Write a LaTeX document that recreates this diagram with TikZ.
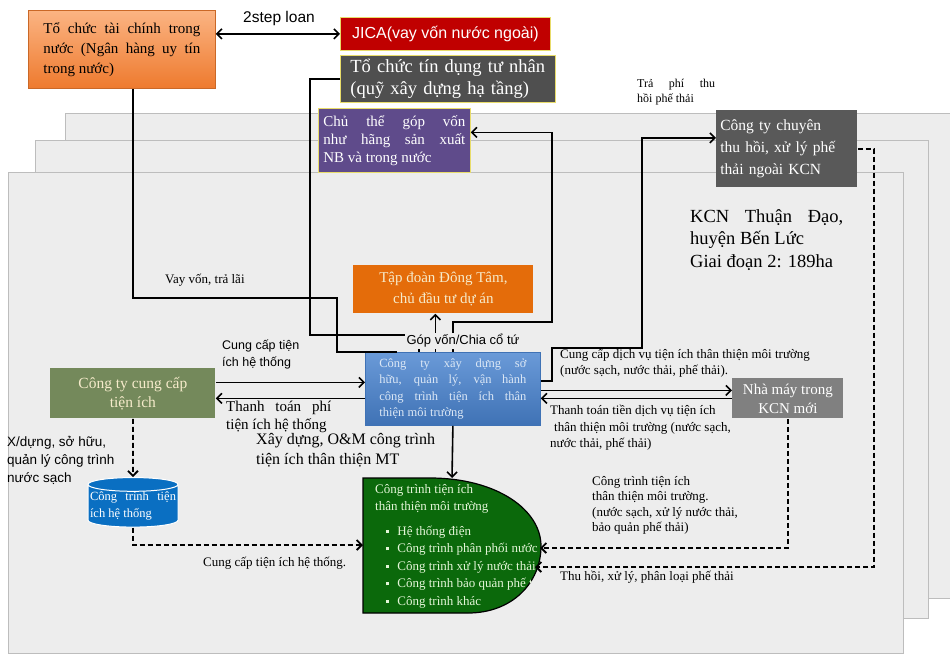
\documentclass[tikz,border=0pt]{standalone}
\usepackage{fontspec}
\setmainfont{Liberation Serif}
\newfontfamily\arialfont{Liberation Sans}
\usepackage{tikz}
\usetikzlibrary{arrows}
\usetikzlibrary{arrows.meta}
\usetikzlibrary{shapes.geometric}
\usetikzlibrary{positioning}

\definecolor{sheetfill}{HTML}{EDEDED}
\definecolor{sheetedge}{HTML}{BDBDBD}
\definecolor{boxedge}{HTML}{E8DC6A}
\definecolor{orgtop}{HTML}{FBB483}
\definecolor{orgbot}{HTML}{EE7A2E}
\definecolor{jicared}{HTML}{C00000}
\definecolor{tindunggray}{HTML}{4F4F4F}
\definecolor{gopvonpurple}{HTML}{5F4B8B}
\definecolor{chuyengray}{HTML}{595959}
\definecolor{dongtamorange}{HTML}{E46C0A}
\definecolor{bluetop}{HTML}{6A9AD8}
\definecolor{bluebot}{HTML}{3F72B5}
\definecolor{cungcapgreen}{HTML}{74895B}
\definecolor{nhamaygray}{HTML}{808080}
\definecolor{cylblue}{HTML}{0A6FC2}
\definecolor{ctrgreen}{HTML}{0B690B}
\definecolor{creamtext}{HTML}{F6EBCB}
\definecolor{bluetext}{HTML}{DCE8F6}
\definecolor{greentext}{HTML}{E4F6D8}

\newcommand{\fsz}[2]{\fontsize{#1}{#2}\selectfont}
\newcommand{\ctrbul}{\hspace*{11pt}\rule[2.5pt]{3.2pt}{3.2pt}\hspace{8pt}}

\begin{document}
\begin{tikzpicture}[x=1pt,y=-1pt,>={Straight Barb[length=5pt,width=10pt]},
        conn/.style={line width=1.6pt,->},
        plain/.style={line width=1.6pt},
        dconn/.style={line width=1.8pt,dash pattern=on 5pt off 3pt,->},
        sheet/.style={fill=sheetfill,draw=sheetedge,line width=1pt},
        fbox/.style={anchor=north west,inner sep=0pt,draw=boxedge,line width=0.8pt},
        lbl/.style={inner sep=0pt,anchor=north west,align=left}]

        \useasboundingbox (0,0) rectangle (950,657);
        \fill[white] (0,0) rectangle (950,657);

        \draw[sheet] (65,113) rectangle (950,598);
        \draw[sheet] (35,140) rectangle (928,618);
        \draw[sheet] (8,172) rectangle (903,653);

        \node[fbox,minimum width=187pt,minimum height=78pt,text width=157pt,align=justify,
            top color=orgtop,bottom color=orgbot,draw=orgbot!85!black,font=\fsz{15}{20}]
            (taichinh) at (28,10) {Tổ chức tài chính trong nước (Ngân hàng uy tín trong nước)};
        \node[fbox,minimum width=210pt,minimum height=33pt,fill=jicared,text=white,
            font=\arialfont\fsz{16}{18}] (jica) at (340,17) {JICA(vay vốn nước ngoài)};
        \node[fbox,minimum width=215pt,minimum height=47pt,text width=195pt,align=left,
            fill=tindunggray,text=white,font=\fsz{18.5}{22}]
            (tindung) at (340,55) {Tổ chức tín dụng tư nhân\\(quỹ xây dựng hạ tầng)};
        \node[fbox,minimum width=152pt,minimum height=64pt,text width=142pt,align=justify,
            fill=gopvonpurple,text=white,font=\fsz{15}{18}]
            (gopvon) at (318,108) {Chủ thể góp vốn\linebreak như hãng sản xuất\linebreak NB và trong nước};
        \node[fbox,draw=none,minimum width=141pt,minimum height=77pt,text width=133pt,align=left,
            fill=chuyengray,text=white,font=\fsz{15.5}{22}]
            (chuyen) at (716,110) {Công ty chuyên\\thu hồi, xử lý phế\\thải ngoài KCN};
        \node[lbl,text width=153pt,align=justify,font=\fsz{18.5}{22.5}]
            (kcn) at (690,209) {KCN Thuận Đạo,\linebreak huyện Bến Lức\\Giai đoạn 2: 189ha};
        \node[fbox,draw=none,minimum width=180pt,minimum height=48pt,fill=dongtamorange,
            text=creamtext,align=center,font=\fsz{15}{21}]
            (dongtam) at (353,265) {Tập đoàn Đông Tâm,\\chủ đầu tư dự án};
        \node[fbox,draw=bluebot,minimum width=175pt,minimum height=73pt,text width=147pt,
            align=justify,top color=bluetop,bottom color=bluebot,text=bluetext,font=\fsz{12.5}{16.5}]
            (blue) at (365,352) {Công ty xây dựng sở\linebreak hữu, quản lý, vận hành\linebreak
            công trình tiện ích thân\linebreak thiện môi trường};
        \node[fbox,draw=none,minimum width=165pt,minimum height=50pt,fill=cungcapgreen,
            text=creamtext,align=center,font=\fsz{15.5}{19}]
            (cungcap) at (50,368) {Công ty cung cấp\\tiện ích};
        \node[fbox,draw=none,minimum width=111pt,minimum height=40pt,fill=nhamaygray,
            text=white,align=center,font=\fsz{15}{19}]
            (nhamay) at (732,378) {Nhà máy trong\\KCN mới};
        \node[cylinder,shape border rotate=90,aspect=0.16,draw=white,line width=1pt,fill=cylblue,
            minimum width=90pt,minimum height=40pt,inner sep=0pt,text width=86pt,align=justify,
            text=white,font=\fsz{12.5}{17}]
            (cyl) at (133,506) {Công trình tiện\linebreak ích hệ thống};

        \filldraw[fill=ctrgreen,draw=black,line width=1.2pt] (363,478) -- (430,478)
            .. controls (497,478) and (541,510) .. (541,546)
            .. controls (541,583) and (512,613) .. (468,613) -- (363,613) -- cycle;
        \begin{scope}
            \clip (363,478) -- (430,478) .. controls (497,478) and (541,510) .. (541,546)
                .. controls (541,583) and (512,613) .. (468,613) -- (363,613) -- cycle;
            \node[lbl,text=greentext,font=\fsz{13}{17.5}] (ctrlist) at (375,484)
                {Công trình tiện ích\\thân thiện môi trường\\[7pt]
                \ctrbul Hệ thống điện\\\ctrbul Công trình phân phối nước\\
                \ctrbul Công trình xử lý nước thải\\\ctrbul Công trình bảo quản phế thải\\
                \ctrbul Công trình khác};
        \end{scope}
        \coordinate (ctrtop) at (452,478);
        \coordinate (ctrw) at (363,545);
        \coordinate (ctre1) at (540,548);
        \coordinate (ctre2) at (535,567);

        \draw[conn,<->] (jica.west -| taichinh.east) -- (jica.west);

        \coordinate (vayin) at ([xshift=32pt]blue.north west);
        \draw[plain] ([xshift=11pt]taichinh.south) |- (337,298) |- (vayin);
        \coordinate (tdin) at ([xshift=-34pt]blue.north);
        \draw[plain] (tindung.west) -| (310,335) -| (tdin);
        \coordinate (dtin) at ([xshift=-8pt]dongtam.south);
        \draw[conn] (dtin |- blue.north) -- (dtin);
        \coordinate (gvin) at ([yshift=8pt]gopvon.east);
        \draw[conn] (blue.north) |- (552,322) |- (gvin);
        \coordinate (tpout) at ([yshift=8pt]blue.east);
        \coordinate (chin) at ([yshift=11pt]chuyen.west);
        \draw[conn] (tpout) -| (552,348) -- (642,348) |- (chin);

        \coordinate (cc1) at ([yshift=11pt]cungcap.east);
        \coordinate (cc2) at ([yshift=-5pt]cungcap.east);
        \draw[conn] (cc1) -- (cc1 -| blue.west);
        \draw[conn] (cc2 -| blue.west) -- (cc2);
        \coordinate (nm1) at ([yshift=8pt]nhamay.west);
        \draw[conn] (nm1 -| blue.east) -- (nm1);
        \draw[conn] (nhamay.west) -- (nhamay.west -| blue.east);
        \draw[conn] (blue.south) -- (ctrtop);

        \draw[dconn] (cungcap.south) -- (cyl.north);
        \draw[dconn] (cyl.south) |- (ctrw);
        \draw[dconn] (nhamay.south) |- (ctre1);
        \draw[dconn] (chuyen.east) -| (874,567) -- (ctre2);

        \node[inner sep=0pt,font=\arialfont\fsz{15.5}{17}] (loan) at (279,18) {2step loan};
        \node[lbl,text width=78pt,align=justify,font=\fsz{12}{15}]
            (traphi) at (637,79) {Trả phí thu\linebreak hồi phế thải};
        \node[lbl,font=\fsz{13}{15}] (vayvon) at (165,274) {Vay vốn, trả lãi};
        \node[inner sep=1.5pt,fill=sheetfill,font=\arialfont\fsz{13}{15}]
            (gopchia) at (463,341) {Góp vốn/Chia cổ tứ};
        \node[lbl,font=\arialfont\fsz{12.5}{17}]
            (hethong) at (222,340) {Cung cấp tiện\\ích hệ thống};
        \node[lbl,text width=105pt,align=justify,font=\fsz{15}{17.5}]
            (ttphi) at (226,401) {Thanh toán phí\linebreak tiện ích hệ thống};
        \node[lbl,font=\fsz{16}{20}]
            (xaydung) at (256,433) {Xây dựng, O\&M công trình\\tiện ích thân thiện MT};
        \node[lbl,font=\arialfont\fsz{13.5}{18}]
            (xdung) at (7,436) {X/dựng, sở hữu,\\quản lý công trình\\nước sạch};
        \node[lbl,font=\fsz{13}{15}] (httext) at (203,557) {Cung cấp tiện ích hệ thống.};
        \node[lbl,font=\fsz{13}{16}]
            (dichvu) at (560,349) {Cung cấp dịch vụ tiện ích thân thiện môi trường\\(nước sạch, nước thải, phế thải).};
        \node[lbl,font=\fsz{13}{16.5}]
            (tttien) at (550,405) {Thanh toán tiền dịch vụ tiện ích\\\hspace*{4pt}thân thiện môi trường (nước sạch,\\nước thải, phế thải)};
        \node[lbl,font=\fsz{13}{15.5}]
            (ctlbl) at (592,476) {Công trình tiện ích\\thân thiện môi trường.\\(nước sạch, xử lý nước thải,\\bảo quản phế thải)};
        \node[lbl,font=\fsz{13}{15}] (thuhoi) at (560,571) {Thu hồi, xử lý, phân loại phế thải};
\end{tikzpicture}
\end{document}
